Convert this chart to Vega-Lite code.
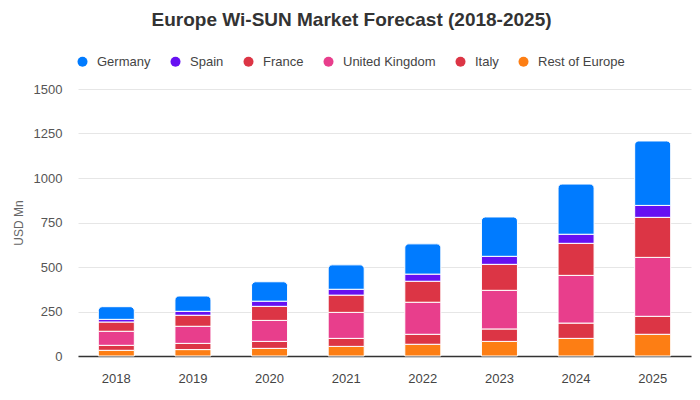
{
  "$schema": "https://vega.github.io/schema/vega-lite/v6.json",
  "width": 613,
  "height": 267,
  "autosize": {"type": "pad"},
  "padding": {"left": 12, "top": 11, "right": 10, "bottom": 5},
  "config": {"font": "Liberation Sans", "view": {"stroke": null}},
  "title": {
    "text": "Europe Wi-SUN Market Forecast (2018-2025)",
    "fontSize": 19,
    "fontWeight": "bold",
    "color": "#333333",
    "anchor": "middle",
    "frame": "bounds",
    "offset": 25
  },
  "data": {
    "values": [
      {"year": "2018", "region": "Rest of Europe", "rank": 1, "value": 32},
      {"year": "2018", "region": "Italy", "rank": 2, "value": 28},
      {"year": "2018", "region": "United Kingdom", "rank": 3, "value": 79},
      {"year": "2018", "region": "France", "rank": 4, "value": 52},
      {"year": "2018", "region": "Spain", "rank": 5, "value": 15},
      {"year": "2018", "region": "Germany", "rank": 6, "value": 71},
      {"year": "2019", "region": "Rest of Europe", "rank": 1, "value": 36},
      {"year": "2019", "region": "Italy", "rank": 2, "value": 35},
      {"year": "2019", "region": "United Kingdom", "rank": 3, "value": 96},
      {"year": "2019", "region": "France", "rank": 4, "value": 62},
      {"year": "2019", "region": "Spain", "rank": 5, "value": 22},
      {"year": "2019", "region": "Germany", "rank": 6, "value": 86},
      {"year": "2020", "region": "Rest of Europe", "rank": 1, "value": 43},
      {"year": "2020", "region": "Italy", "rank": 2, "value": 39},
      {"year": "2020", "region": "United Kingdom", "rank": 3, "value": 118},
      {"year": "2020", "region": "France", "rank": 4, "value": 79},
      {"year": "2020", "region": "Spain", "rank": 5, "value": 29},
      {"year": "2020", "region": "Germany", "rank": 6, "value": 109},
      {"year": "2021", "region": "Rest of Europe", "rank": 1, "value": 54},
      {"year": "2021", "region": "Italy", "rank": 2, "value": 45},
      {"year": "2021", "region": "United Kingdom", "rank": 3, "value": 146},
      {"year": "2021", "region": "France", "rank": 4, "value": 97},
      {"year": "2021", "region": "Spain", "rank": 5, "value": 33},
      {"year": "2021", "region": "Germany", "rank": 6, "value": 137},
      {"year": "2022", "region": "Rest of Europe", "rank": 1, "value": 66},
      {"year": "2022", "region": "Italy", "rank": 2, "value": 56},
      {"year": "2022", "region": "United Kingdom", "rank": 3, "value": 180},
      {"year": "2022", "region": "France", "rank": 4, "value": 118},
      {"year": "2022", "region": "Spain", "rank": 5, "value": 40},
      {"year": "2022", "region": "Germany", "rank": 6, "value": 170},
      {"year": "2023", "region": "Rest of Europe", "rank": 1, "value": 82},
      {"year": "2023", "region": "Italy", "rank": 2, "value": 70},
      {"year": "2023", "region": "United Kingdom", "rank": 3, "value": 217},
      {"year": "2023", "region": "France", "rank": 4, "value": 146},
      {"year": "2023", "region": "Spain", "rank": 5, "value": 45},
      {"year": "2023", "region": "Germany", "rank": 6, "value": 221},
      {"year": "2024", "region": "Rest of Europe", "rank": 1, "value": 99},
      {"year": "2024", "region": "Italy", "rank": 2, "value": 86},
      {"year": "2024", "region": "United Kingdom", "rank": 3, "value": 268},
      {"year": "2024", "region": "France", "rank": 4, "value": 180},
      {"year": "2024", "region": "Spain", "rank": 5, "value": 51},
      {"year": "2024", "region": "Germany", "rank": 6, "value": 282},
      {"year": "2025", "region": "Rest of Europe", "rank": 1, "value": 122},
      {"year": "2025", "region": "Italy", "rank": 2, "value": 101},
      {"year": "2025", "region": "United Kingdom", "rank": 3, "value": 331},
      {"year": "2025", "region": "France", "rank": 4, "value": 225},
      {"year": "2025", "region": "Spain", "rank": 5, "value": 67},
      {"year": "2025", "region": "Germany", "rank": 6, "value": 362}
    ]
  },
  "transform": [
    {"stack": "value", "groupby": ["year"], "sort": [{"field": "rank", "order": "ascending"}], "as": ["v0", "v1"]}
  ],
  "encoding": {
    "x": {
      "field": "year",
      "type": "nominal",
      "scale": {"paddingInner": 0.53, "paddingOuter": 0.265},
      "axis": {
        "title": null,
        "labelAngle": 0,
        "ticks": false,
        "domainColor": "#333333",
        "domainWidth": 1.5,
        "labelColor": "#444444",
        "labelFontSize": 13,
        "labelPadding": 16
      }
    },
    "y": {
      "field": "v1",
      "type": "quantitative",
      "scale": {"domain": [0, 1500]},
      "axis": {
        "title": "USD Mn",
        "titleColor": "#666666",
        "titleFontSize": 12,
        "titleFontWeight": "normal",
        "titlePadding": 8,
        "values": [0, 250, 500, 750, 1000, 1250, 1500],
        "format": "d",
        "labelColor": "#555555",
        "labelFontSize": 13,
        "labelPadding": 16,
        "ticks": false,
        "domain": false,
        "gridColor": "#e6e6e6"
      }
    },
    "y2": {"field": "v0"},
    "color": {
      "field": "region",
      "type": "nominal",
      "scale": {
        "domain": ["Germany", "Spain", "France", "United Kingdom", "Italy", "Rest of Europe"],
        "range": ["#007bff", "#6610f2", "#dc3545", "#e83e8c", "#dc3545", "#fd7e14"]
      },
      "legend": {
        "title": null,
        "orient": "none",
        "legendX": -2,
        "legendY": -34,
        "direction": "horizontal",
        "symbolType": "circle",
        "symbolSize": 100,
        "symbolStrokeWidth": 0,
        "labelFontSize": 13,
        "labelColor": "#444444",
        "labelOffset": 8,
        "columnPadding": 18
      }
    }
  },
  "layer": [
    {
      "transform": [{"filter": "datum.region !== 'Germany'"}],
      "mark": {"type": "bar", "stroke": "white", "strokeWidth": 1}
    },
    {
      "transform": [{"filter": "datum.region === 'Germany'"}],
      "mark": {"type": "bar", "stroke": "white", "strokeWidth": 1, "cornerRadiusTopLeft": 4, "cornerRadiusTopRight": 4}
    }
  ]
}
